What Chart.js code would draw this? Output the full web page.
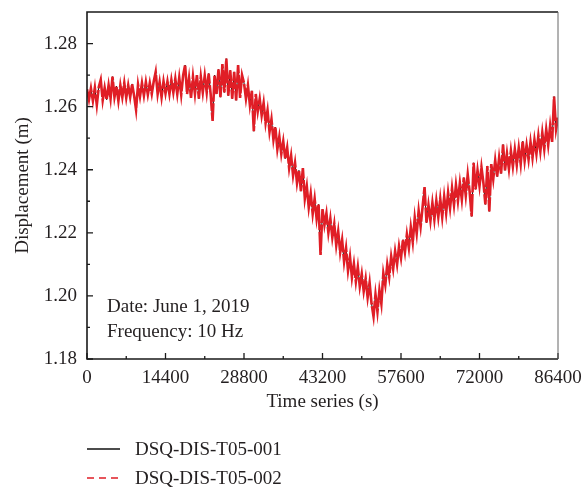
<!DOCTYPE html>
<html>
<head>
<meta charset="utf-8">
<script src="https://cdn.jsdelivr.net/npm/chart.js@4.4.1/dist/chart.umd.min.js"></script>
<style>
  html, body { margin: 0; padding: 0; background: #fff; }
</style>
</head>
<body>
<canvas id="chart" width="583" height="490"></canvas>
<script>
// sample spacing (s)
const timeStep = 360;

const xTicks = [0, 14400, 28800, 43200, 57600, 72000, 86400];
const yTicks = [1.18, 1.20, 1.22, 1.24, 1.26, 1.28];

const seriesNames = ['DSQ-DIS-T05-001', 'DSQ-DIS-T05-002'];

// displacement (m), one value every 360 s
const dis001 = [
  1.2655, 1.2622, 1.2658, 1.2618, 1.2660, 1.2605, 1.2662, 1.2685, 1.2620, 1.2660, 1.2622, 1.2668, 1.2625, 1.2695, 1.2630, 1.2665, 1.2618, 1.2668, 1.2630, 1.2675,
  1.2628, 1.2668, 1.2630, 1.2672, 1.2635, 1.2590, 1.2670, 1.2632, 1.2675, 1.2635, 1.2678, 1.2638, 1.2675, 1.2640, 1.2680, 1.2710, 1.2640, 1.2678, 1.2630, 1.2680,
  1.2642, 1.2680, 1.2640, 1.2685, 1.2645, 1.2688, 1.2640, 1.2692, 1.2638, 1.2700, 1.2732, 1.2640, 1.2690, 1.2628, 1.2695, 1.2640, 1.2700, 1.2625, 1.2695, 1.2645,
  1.2698, 1.2645, 1.2705, 1.2640, 1.2555, 1.2700, 1.2640, 1.2718, 1.2630, 1.2735, 1.2645, 1.2752, 1.2635, 1.2715, 1.2625, 1.2710, 1.2620, 1.2732, 1.2628, 1.2700,
  1.2675, 1.2625, 1.2668, 1.2605, 1.2650, 1.2522, 1.2640, 1.2585, 1.2625, 1.2572, 1.2612, 1.2548, 1.2588, 1.2520, 1.2560, 1.2495, 1.2535, 1.2465, 1.2505, 1.2450,
  1.2490, 1.2435, 1.2470, 1.2405, 1.2445, 1.2382, 1.2422, 1.2358, 1.2398, 1.2332, 1.2405, 1.2308, 1.2348, 1.2280, 1.2325, 1.2260, 1.2308, 1.2245, 1.2290, 1.2130,
  1.2275, 1.2225, 1.2262, 1.2200, 1.2245, 1.2185, 1.2228, 1.2160, 1.2205, 1.2138, 1.2178, 1.2108, 1.2152, 1.2080, 1.2125, 1.2058, 1.2102, 1.2045, 1.2092, 1.2030,
  1.2070, 1.2015, 1.2055, 1.1995, 1.2042, 1.1975, 1.1935, 1.2005, 1.1950, 1.2018, 1.1975, 1.2072, 1.2035, 1.2100, 1.2060, 1.2125, 1.2085, 1.2142, 1.2100, 1.2158,
  1.2120, 1.2178, 1.2138, 1.2195, 1.2152, 1.2218, 1.2170, 1.2248, 1.2198, 1.2270, 1.2220, 1.2282, 1.2345, 1.2232, 1.2288, 1.2238, 1.2295, 1.2242, 1.2302, 1.2250,
  1.2308, 1.2250, 1.2315, 1.2262, 1.2328, 1.2278, 1.2342, 1.2288, 1.2352, 1.2300, 1.2358, 1.2305, 1.2375, 1.2318, 1.2385, 1.2328, 1.2252, 1.2422, 1.2338, 1.2398,
  1.2348, 1.2408, 1.2358, 1.2290, 1.2412, 1.2268, 1.2418, 1.2370, 1.2430, 1.2378, 1.2438, 1.2388, 1.2480, 1.2398, 1.2452, 1.2402, 1.2460, 1.2410, 1.2465, 1.2415,
  1.2470, 1.2418, 1.2490, 1.2428, 1.2478, 1.2432, 1.2488, 1.2438, 1.2495, 1.2450, 1.2508, 1.2458, 1.2518, 1.2465, 1.2528, 1.2478, 1.2540, 1.2488, 1.2632, 1.2528,
  1.2565
];
// the second sensor sits on top of the first, can't be read apart
const dis002 = dis001;

const textColor = '#231f20';
const serif = "'Liberation Serif', 'Times New Roman', serif";

const toPoints = (vals) => vals.map((v, i) => ({x: i * timeStep, y: v}));

// no automatic padding, the plot box is fixed
const fixPad = (s) => {
  s.paddingLeft = 0; s.paddingRight = 0; s.paddingTop = 0; s.paddingBottom = 0;
};

const frameTicks = {
  id: 'frameTicks',
  afterDatasetsDraw(chart) {
    const {ctx, chartArea: a, scales: {x, y}} = chart;
    ctx.save();
    ctx.strokeStyle = '#1a1a1a';
    ctx.lineWidth = 1.3;
    ctx.beginPath();
    xTicks.forEach((v, i) => {
      const px = x.getPixelForValue(v);
      ctx.moveTo(px, a.bottom);
      ctx.lineTo(px, a.bottom - 6);
      if (i < xTicks.length - 1) {
        const mx = x.getPixelForValue((v + xTicks[i + 1]) / 2);
        ctx.moveTo(mx, a.bottom);
        ctx.lineTo(mx, a.bottom - 3);
      }
    });
    yTicks.forEach((v, i) => {
      const py = y.getPixelForValue(v);
      ctx.moveTo(a.left, py);
      ctx.lineTo(a.left + 6, py);
      if (i < yTicks.length - 1) {
        const my = y.getPixelForValue((v + yTicks[i + 1]) / 2);
        ctx.moveTo(a.left, my);
        ctx.lineTo(a.left + 3, my);
      }
    });
    ctx.stroke();

    ctx.lineWidth = 1.6;
    ctx.beginPath();
    ctx.moveTo(a.right, a.top);
    ctx.lineTo(a.left, a.top);
    ctx.lineTo(a.left, a.bottom);
    ctx.lineTo(a.right, a.bottom);
    ctx.stroke();
    ctx.strokeStyle = '#666';
    ctx.lineWidth = 1;
    ctx.beginPath();
    ctx.moveTo(a.right, a.top);
    ctx.lineTo(a.right, a.bottom);
    ctx.stroke();

    // info text in the lower left corner
    ctx.fillStyle = textColor;
    ctx.font = '19px ' + serif;
    ctx.textBaseline = 'alphabetic';
    ctx.fillText('Date: June 1, 2019', a.left + 20, 312);
    ctx.fillText('Frequency: 10 Hz', a.left + 20, 337);
    ctx.restore();
  },
  afterDraw(chart) {
    // legend stacked under the axis title
    const {ctx, chartArea: a} = chart;
    ctx.save();
    ctx.font = '19px ' + serif;
    ctx.textBaseline = 'middle';
    chart.data.datasets.forEach((ds, i) => {
      const ly = 449 + i * 29;
      ctx.strokeStyle = ds.borderColor;
      ctx.lineWidth = 1.5;
      ctx.setLineDash(ds.legendDash || []);
      ctx.beginPath();
      ctx.moveTo(a.left, ly);
      ctx.lineTo(a.left + 33, ly);
      ctx.stroke();
      ctx.setLineDash([]);
      ctx.fillStyle = textColor;
      ctx.fillText(ds.label, a.left + 48, ly + 1);
    });
    ctx.restore();
  }
};

new Chart(document.getElementById('chart'), {
  type: 'line',
  data: {
    datasets: [
      {
        label: seriesNames[0],
        data: toPoints(dis001),
        borderColor: '#111',
        borderWidth: 1,
        pointRadius: 0,
        tension: 0,
        order: 1
      },
      {
        label: seriesNames[1],
        data: toPoints(dis002),
        borderColor: '#e01e26',
        borderWidth: 2.6,
        borderDash: [26, 1.5],
        legendDash: [7, 5],
        pointRadius: 0,
        tension: 0,
        order: 0
      }
    ]
  },
  options: {
    responsive: false,
    devicePixelRatio: 1,
    animation: false,
    layout: {padding: {top: 12, right: 25, bottom: 71, left: 0}},
    plugins: {legend: {display: false}, tooltip: {enabled: false}},
    scales: {
      x: {
        type: 'linear',
        min: 0,
        max: 86400,
        afterBuildTicks: (s) => { s.ticks = xTicks.map(v => ({value: v})); },
        afterFit: (s) => { s.height = 60; fixPad(s); },
        grid: {display: false, drawTicks: false},
        border: {display: false},
        ticks: {
          color: textColor,
          font: {family: serif, size: 19},
          padding: 8,
          maxRotation: 0,
          callback: (v) => String(v)
        },
        title: {
          display: true,
          text: 'Time series (s)',
          color: textColor,
          font: {family: serif, size: 19},
          padding: {top: 0, bottom: 6}
        }
      },
      y: {
        min: 1.18,
        max: 1.29,
        afterBuildTicks: (s) => { s.ticks = yTicks.map(v => ({value: v})); },
        afterFit: (s) => { s.width = 87; fixPad(s); },
        grid: {display: false, drawTicks: false},
        border: {display: false},
        ticks: {
          color: textColor,
          font: {family: serif, size: 19},
          padding: 10,
          callback: (v) => v.toFixed(2)
        },
        title: {
          display: true,
          text: 'Displacement (m)',
          color: textColor,
          font: {family: serif, size: 19},
          padding: {top: 12, bottom: 0}
        }
      }
    }
  },
  plugins: [frameTicks]
});
</script>
</body>
</html>
